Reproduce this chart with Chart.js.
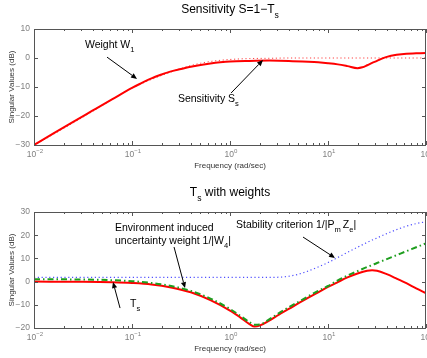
<!DOCTYPE html>
<html><head><meta charset="utf-8">
<script src="https://cdn.jsdelivr.net/npm/chart.js@4"></script>
<style>
html,body{margin:0;padding:0;background:#fff;}
#wrap{position:relative;width:427px;height:358px;overflow:hidden;}
canvas{position:absolute;left:0;}
</style></head><body>
<div id="wrap">
<canvas id="c1" width="427" height="180" style="top:0"></canvas>
<canvas id="c2" width="427" height="178" style="top:180px"></canvas>
</div>
<script>
// ---------- DATA ----------
const decades = [0.01, 0.1, 1, 10, 100];
const decadeExp = ['−2', '−1', '0', '1', '2'];

// Top plot: Sensitivity S = 1 - T_s
const freqS = [0.01,0.0158,0.0251,0.0398,0.0631,0.1,0.126,0.158,0.2,0.251,0.316,0.398,0.501,0.631,0.794,1,1.58,2.51,3.98,6.31,7.94,10,12.6,15.8,20,22.4,25.1,28.2,31.6,35.5,39.8,50.1,63.1,79.4,100];
const sensitivitySs = [-30.0,-26.0,-22.0,-18.1,-14.2,-10.3,-8.6,-7.0,-5.7,-4.6,-3.8,-3.0,-2.4,-1.9,-1.5,-1.2,-1.0,-0.9,-1.0,-1.3,-1.5,-1.8,-2.2,-2.8,-3.5,-3.2,-2.5,-1.7,-1.0,-0.2,0.4,1.1,1.5,1.6,1.7];
const freqW1 = [0.01,0.0316,0.1,0.158,0.251,0.316,0.398,0.501,0.631,0.794,1,1.58,2.51,3.98,10,31.6,100];
const weightW1 = [-30.2,-20.4,-10.4,-7.4,-4.8,-3.6,-2.6,-1.8,-1.2,-0.8,-0.5,-0.2,-0.1,0,0,0,0];

// Bottom plot: T_s with weights
const freqT = [0.01,0.0316,0.0631,0.1,0.158,0.251,0.398,0.631,1,1.26,1.58,1.78,2,2.51,3.16,3.98,5.01,6.31,7.94,10,12.6,15.8,20,25.1,28.2,31.6,39.8,50.1,63.1,79.4,100];
const complementaryTs = [0.0,-0.1,-0.3,-0.6,-1.2,-2.5,-4.6,-8.0,-12.5,-15.3,-18.3,-19.4,-19.0,-16.8,-14.2,-11.8,-9.3,-6.9,-4.6,-2.3,-0.2,1.8,3.5,4.7,4.9,4.7,3.2,1.3,-0.7,-2.9,-5.0];
const invW4 = [1.0,0.9,0.6,0.2,-0.6,-1.9,-4.0,-7.3,-11.8,-14.6,-17.5,-18.6,-18.5,-16.3,-13.6,-11.1,-8.7,-6.3,-4.0,-1.9,0.5,2.6,4.5,6.3,7.1,8.0,9.7,11.4,13.1,14.8,16.5];
const stabilityCrit = [1.8,1.8,1.8,1.8,1.8,1.8,1.8,1.8,1.8,1.8,1.8,1.8,1.8,1.8,1.9,2.3,3.2,4.6,6.3,8.2,10.4,12.6,14.8,16.9,17.9,18.8,20.7,22.4,23.9,25.0,25.8];

// Annotations (data coordinates: [freq, dB])
const topNotes = [
  {text:[['Weight W',0],['1',1]], at:[0.0331,4.5], tail:[0.0556,0.3], tip:[0.1125,-7.2]},
  {text:[['Sensitivity S',0],['s',1]], at:[0.294,-14.1], tail:[1.024,-12.1], tip:[2.17,-0.7]}
];
const bottomNotes = [
  {text:[['Environment induced',0]], at:[0.0671,23.1]},
  {text:[['uncertainty weight 1/|W',0],['4',1],['|',0]], at:[0.0671,17.5], tail:[0.2685,14.9], tip:[0.3475,-2.8]},
  {text:[['Stability criterion 1/|P',0],['m ',1],['Z',0],['e',1],['|',0]], at:[1.151,24.4], tail:[5.56,19.2], tip:[11.8,10.2]},
  {text:[['T',0],['s',1]], at:[0.0955,-9.7], tail:[0.0755,-11.4], tip:[0.064,-0.2]}
];

// ---------- RENDERING ----------
const FONT = '"Liberation Sans", Arial, Helvetica, sans-serif';
const pts = (xs, ys) => xs.map((x, i) => ({x, y: ys[i]}));

function richText(ctx, segs, x, y, size, align, color) {
  ctx.save();
  ctx.fillStyle = color; ctx.textBaseline = 'middle'; ctx.textAlign = 'left';
  const fs = k => (k ? size * 0.72 : size);
  const widths = segs.map(([t, k]) => { ctx.font = fs(k) + 'px ' + FONT; return ctx.measureText(t).width; });
  const total = widths.reduce((a, b) => a + b, 0);
  let cx = align === 'center' ? x - total / 2 : align === 'right' ? x - total : x;
  segs.forEach(([t, k], i) => {
    ctx.font = fs(k) + 'px ' + FONT;
    const dy = k === 1 ? size * 0.45 : k === 2 ? -size * 0.42 : 0;
    ctx.fillText(t, cx, y + dy);
    cx += widths[i];
  });
  ctx.restore();
}

function arrow(ctx, x1, y1, x2, y2) {
  ctx.save();
  ctx.strokeStyle = '#000'; ctx.fillStyle = '#000'; ctx.lineWidth = 1;
  const a = Math.atan2(y2 - y1, x2 - x1), L = 6, W = 2.6;
  const bx = x2 - L * Math.cos(a), by = y2 - L * Math.sin(a);
  ctx.beginPath(); ctx.moveTo(x1, y1); ctx.lineTo(bx, by); ctx.stroke();
  ctx.beginPath(); ctx.moveTo(x2, y2);
  ctx.lineTo(bx + W * Math.sin(a), by - W * Math.cos(a));
  ctx.lineTo(bx - W * Math.sin(a), by + W * Math.cos(a));
  ctx.closePath(); ctx.fill();
  ctx.restore();
}

function decorPlugin(cfg) {
  return {
    id: 'decor',
    afterDraw(chart) {
      const ctx = chart.ctx, a = chart.chartArea, xs = chart.scales.x, ys = chart.scales.y;
      ctx.save();
      // box
      ctx.strokeStyle = '#555'; ctx.lineWidth = 1;
      ctx.strokeRect(Math.round(a.left) + 0.5, Math.round(a.top) + 0.5, Math.round(a.right - a.left) - 1, Math.round(a.bottom - a.top));
      // inward ticks
      ctx.beginPath();
      ys.ticks.forEach(t => {
        const y = Math.round(ys.getPixelForValue(t.value)) + 0.5;
        ctx.moveTo(a.left, y); ctx.lineTo(a.left + 4, y);
        ctx.moveTo(a.right, y); ctx.lineTo(a.right - 4, y);
      });
      for (let d = 0; d < decades.length; d++) {
        const base = decades[d];
        const xm = Math.round(xs.getPixelForValue(base)) + 0.5;
        ctx.moveTo(xm, a.bottom); ctx.lineTo(xm, a.bottom - 4);
        ctx.moveTo(xm, a.top); ctx.lineTo(xm, a.top + 4);
        if (d < decades.length - 1) {
          for (let m = 2; m <= 9; m++) {
            const x = Math.round(xs.getPixelForValue(base * m)) + 0.5;
            ctx.moveTo(x, a.bottom); ctx.lineTo(x, a.bottom - 2);
            ctx.moveTo(x, a.top); ctx.lineTo(x, a.top + 2);
          }
        }
      }
      ctx.stroke();
      // x tick labels 10^k
      decades.forEach((v, i) => {
        const x = xs.getPixelForValue(v);
        richText(ctx, [['10', 0], [decadeExp[i], 2]], x + 1, a.bottom + 10, 8.5, 'center', '#808080');
      });
      // axis titles
      richText(ctx, [['Frequency (rad/sec)', 0]], (a.left + a.right) / 2, a.bottom + cfg.xTitleDy, 8, 'center', '#333');
      ctx.save();
      ctx.translate(12, (a.top + a.bottom) / 2); ctx.rotate(-Math.PI / 2);
      richText(ctx, [['Singular Values (dB)', 0]], 0, 0, 8, 'center', '#333');
      ctx.restore();
      // title
      richText(ctx, cfg.title, (a.left + a.right) / 2, cfg.titleY, 12, 'center', '#000');
      // annotations
      cfg.notes.forEach(n => {
        richText(ctx, n.text, xs.getPixelForValue(n.at[0]), ys.getPixelForValue(n.at[1]), 10.5, 'left', '#000');
        if (n.tip) arrow(ctx, xs.getPixelForValue(n.tail[0]), ys.getPixelForValue(n.tail[1]),
                           xs.getPixelForValue(n.tip[0]), ys.getPixelForValue(n.tip[1]));
      });
      ctx.restore();
    }
  };
}

function options(o) {
  return {
    responsive: false, animation: false, devicePixelRatio: 1,
    layout: {padding: {top: o.top, right: 1, left: 0, bottom: 0}},
    plugins: {legend: {display: false}, tooltip: {enabled: false}, title: {display: false}},
    elements: {point: {radius: 0}, line: {cubicInterpolationMode: 'monotone', borderCapStyle: 'butt'}},
    scales: {
      x: {type: 'logarithmic', min: 0.01, max: 100,
          grid: {display: false, drawTicks: false}, border: {display: false},
          ticks: {display: false},
          afterBuildTicks: s => { s.ticks = decades.map(v => ({value: v})); },
          afterFit: s => { s.height = o.xh; s.paddingLeft = 0; s.paddingRight = 0; }},
      y: {min: o.ymin, max: o.ymax,
          grid: {display: false, drawTicks: false}, border: {display: false},
          ticks: {stepSize: 10, padding: 4, color: '#808080', font: {family: FONT, size: 8.5},
                  callback: v => String(v).replace('-', '−')},
          afterFit: s => { s.width = 34; s.paddingTop = 0; s.paddingBottom = 0; }}
    }
  };
}

new Chart(document.getElementById('c1'), {
  type: 'line',
  data: {datasets: [
    {data: pts(freqS, sensitivitySs), borderColor: '#ff0000', borderWidth: 2, fill: false},
    {data: pts(freqW1, weightW1), borderColor: '#ff4040', borderWidth: 1, borderDash: [1.2, 2.6], fill: false}
  ]},
  options: options({top: 29, xh: 35, ymin: -30, ymax: 10}),
  plugins: [decorPlugin({title: [['Sensitivity S=1−T', 0], ['s', 1]], titleY: 10, xTitleDy: 21, notes: topNotes})]
});

new Chart(document.getElementById('c2'), {
  type: 'line',
  data: {datasets: [
    {data: pts(freqT, invW4), borderColor: '#1e9e1e', borderWidth: 2, borderDash: [6, 3, 1.5, 3], fill: false},
    {data: pts(freqT, complementaryTs), borderColor: '#ff0000', borderWidth: 2, fill: false},
    {data: pts(freqT, stabilityCrit), borderColor: '#5050ff', borderWidth: 1.2, borderDash: [1.2, 2.6], fill: false}
  ]},
  options: options({top: 32, xh: 30, ymin: -20, ymax: 30}),
  plugins: [decorPlugin({title: [['T', 0], ['s', 1], [' with weights', 0]], titleY: 13, xTitleDy: 21, notes: bottomNotes})]
});
</script>
</body></html>
